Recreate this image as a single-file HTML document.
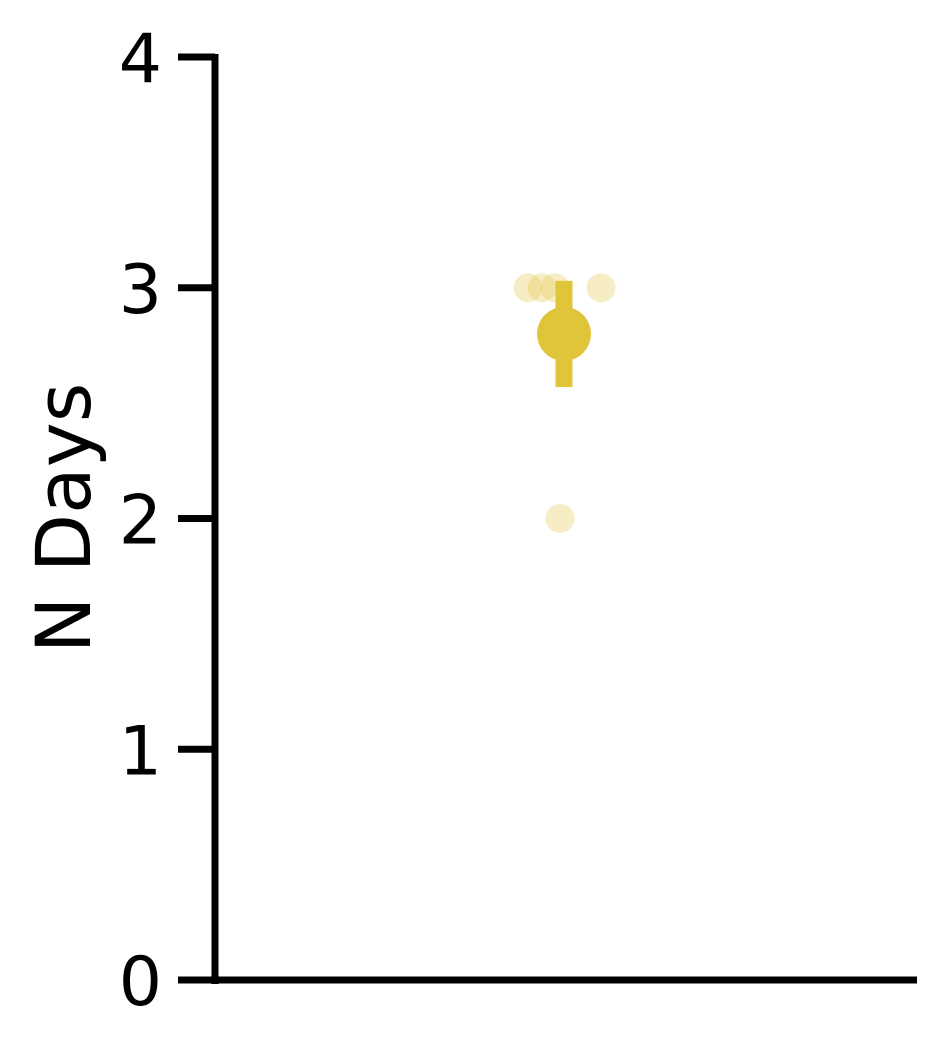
<!DOCTYPE html>
<html><head><meta charset="utf-8"><style>body{margin:0;background:#fff}svg{display:block}</style></head>
<body>
<svg id="chart" width="943" height="1051"
 font-family="DejaVu Sans, Liberation Sans, sans-serif">
<g id="axes"></g><g id="marks"></g>
</svg>
<script>
const yTicks = [0, 1, 2, 3, 4];
const pointValues = [3, 3, 3, 3, 2];
const pointXs = [528, 542, 555, 601, 560]; // jitter offsets in px (horizontal strip)
const meanValue = 2.8;
const errLow = 2.57;
const errHigh = 3.03;
const yLabel = "N Days";

const NS = "http://www.w3.org/2000/svg";
const y = v => 980 - v * 230.75;
const cx = 564;
function mk(tag, attrs, parent) {
  const e = document.createElementNS(NS, tag);
  for (const k in attrs) e.setAttribute(k, attrs[k]);
  parent.appendChild(e); return e;
}
const axes = document.getElementById('axes');
const marks = document.getElementById('marks');

let l = mk('line', {x1:215, y1:y(4)-3, x2:215, y2:984, stroke:'#000','stroke-width':7}, axes);


l = mk('line', {x1:212, y1:980, x2:917, y2:980, stroke:'#000','stroke-width':7}, axes);


yTicks.forEach(t => {
  const tk = mk('line', {x1:178, y1:y(t), x2:215, y2:y(t), stroke:'#000','stroke-width':7}, axes);
  
  
  const tx = mk('text', {x:162, y:y(t)+25, 'text-anchor':'end','font-size':68}, axes);
  tx.textContent = t;
  
  
});
const yl = mk('text', {x:0, y:0, 'text-anchor':'middle','font-size':76, transform:'translate(90,518) rotate(-90)'}, axes);
yl.textContent = yLabel;



pointValues.forEach((v, i) => {
  const c = mk('circle', {cx:pointXs[i], cy:y(v), r:14.5, fill:'#E0C43A','fill-opacity':0.3}, marks);
  
  
});
const eb = mk('rect', {x:cx-8.5, y:y(errHigh), width:17, height:y(errLow)-y(errHigh), fill:'#E0C43A'}, marks);


const m = mk('circle', {cx:cx, cy:y(meanValue), r:27, fill:'#E0C43A'}, marks);


</script>
</body></html>
